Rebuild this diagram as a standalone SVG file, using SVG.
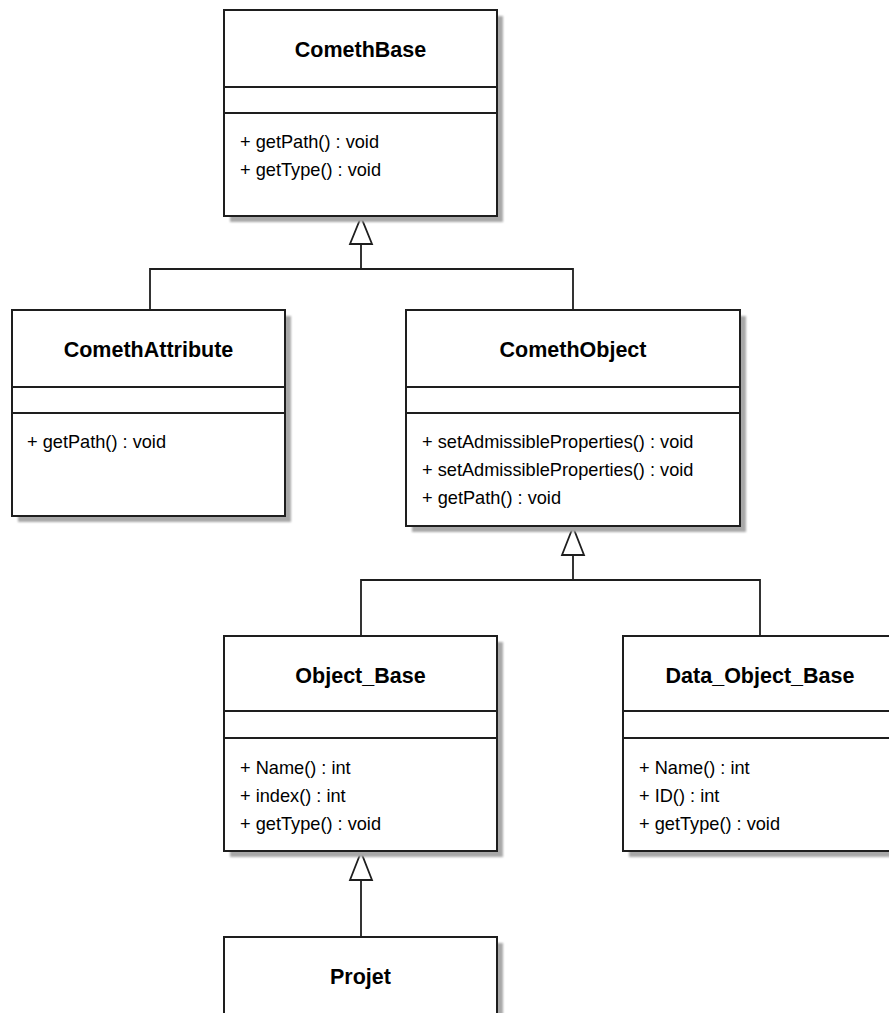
<svg xmlns="http://www.w3.org/2000/svg" width="889" height="1013" viewBox="0 0 889 1013">
<defs>
<filter id="blur" x="-10%" y="-10%" width="120%" height="120%"><feGaussianBlur stdDeviation="1.3"/></filter>
<style>
.sh{fill:#a8a8a8;filter:url(#blur)}
.box{fill:#fff;stroke:#1e1e1e;stroke-width:2}
.div{stroke:#1e1e1e;stroke-width:2}
.title{font-family:"Liberation Sans",Arial,sans-serif;font-weight:bold;font-size:21.5px;fill:#000;text-anchor:middle}
.m{font-family:"Liberation Sans",Arial,sans-serif;font-size:18.2px;fill:#000}
.c{fill:none;stroke:#1e1e1e;stroke-width:1.8}
.tri{fill:#fff;stroke:#1e1e1e;stroke-width:1.8;stroke-linejoin:miter}
</style>
</defs>
<rect width="889" height="1013" fill="#fff"/>
<g id="connectors">
<polyline class="c" points="361,244 361,269"/>
<polyline class="c" points="150,310 150,269 573,269 573,310"/>
<polygon class="tri" points="361,217 350,244 372,244"/>
<polyline class="c" points="573,555 573,580"/>
<polyline class="c" points="361,636 361,580 760,580 760,636"/>
<polygon class="tri" points="573,527 562,555 584,555"/>
<polyline class="c" points="361,880 361,937"/>
<polygon class="tri" points="361,852 350,880 372,880"/>
</g>
<g id="ComethBase">
<rect class="sh" x="230" y="16" width="273" height="206"/>
<rect class="box" x="224" y="10" width="273" height="206"/>
<line class="div" x1="224" y1="87" x2="497" y2="87"/>
<line class="div" x1="224" y1="113" x2="497" y2="113"/>
<text class="title" x="360.5" y="57">ComethBase</text>
<text class="m" x="240" y="148">+ getPath() : void</text>
<text class="m" x="240" y="176">+ getType() : void</text>
</g>
<g id="ComethAttribute">
<rect class="sh" x="18" y="316" width="273" height="206"/>
<rect class="box" x="12" y="310" width="273" height="206"/>
<line class="div" x1="12" y1="387" x2="285" y2="387"/>
<line class="div" x1="12" y1="413" x2="285" y2="413"/>
<text class="title" x="148.5" y="357">ComethAttribute</text>
<text class="m" x="27" y="448">+ getPath() : void</text>
</g>
<g id="ComethObject">
<rect class="sh" x="412" y="316" width="334" height="216"/>
<rect class="box" x="406" y="310" width="334" height="216"/>
<line class="div" x1="406" y1="387" x2="740" y2="387"/>
<line class="div" x1="406" y1="413" x2="740" y2="413"/>
<text class="title" x="573" y="357">ComethObject</text>
<text class="m" x="422" y="448">+ setAdmissibleProperties() : void</text>
<text class="m" x="422" y="476">+ setAdmissibleProperties() : void</text>
<text class="m" x="422" y="504">+ getPath() : void</text>
</g>
<g id="Object_Base">
<rect class="sh" x="230" y="642" width="273" height="215"/>
<rect class="box" x="224" y="636" width="273" height="215"/>
<line class="div" x1="224" y1="711" x2="497" y2="711"/>
<line class="div" x1="224" y1="738" x2="497" y2="738"/>
<text class="title" x="360.5" y="683">Object_Base</text>
<text class="m" x="240" y="774">+ Name() : int</text>
<text class="m" x="240" y="802">+ index() : int</text>
<text class="m" x="240" y="830">+ getType() : void</text>
</g>
<g id="Data_Object_Base">
<rect class="sh" x="629" y="642" width="273" height="215"/>
<rect class="box" x="623" y="636" width="273" height="215"/>
<line class="div" x1="623" y1="711" x2="896" y2="711"/>
<line class="div" x1="623" y1="738" x2="896" y2="738"/>
<text class="title" x="760" y="683">Data_Object_Base</text>
<text class="m" x="639" y="774">+ Name() : int</text>
<text class="m" x="639" y="802">+ ID() : int</text>
<text class="m" x="639" y="830">+ getType() : void</text>
</g>
<g id="Projet">
<rect class="sh" x="230" y="943" width="273" height="150"/>
<rect class="box" x="224" y="937" width="273" height="150"/>
<text class="title" x="360.5" y="984">Projet</text>
</g>
</svg>
